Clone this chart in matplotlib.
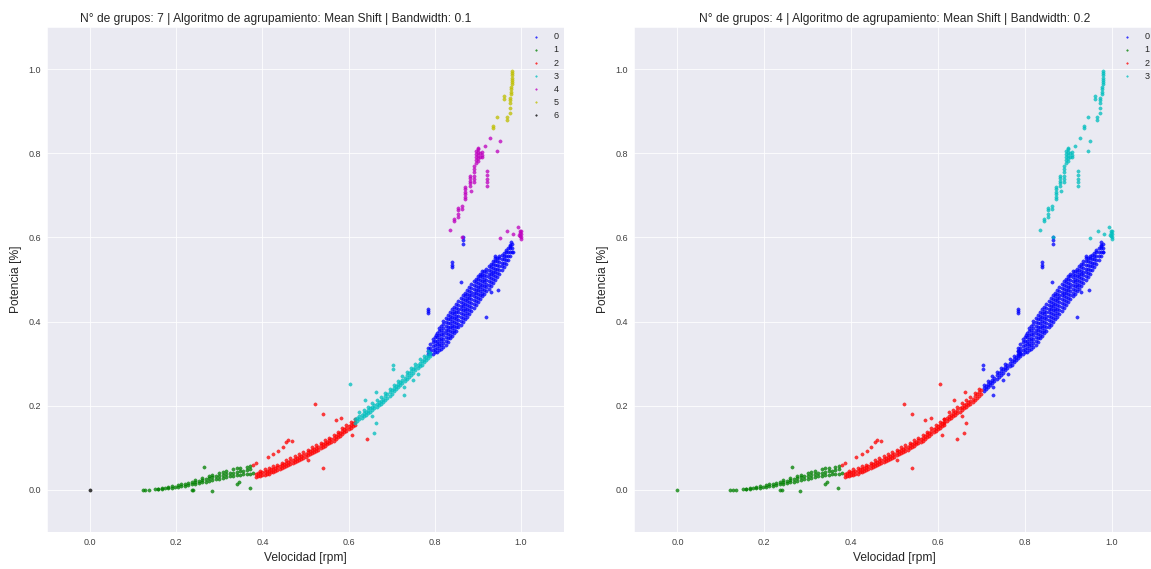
import numpy as np
import matplotlib
matplotlib.use('Agg')
import matplotlib.pyplot as plt
import seaborn as sns

sns.set_style('darkgrid')
plt.rcParams['font.family'] = ['Liberation Sans', 'DejaVu Sans']

# ---------------- data ----------------
# dense band of the main cluster: column velocity -> list of power values
blue_col_v = [0.785, 0.790, 0.795, 0.800, 0.805, 0.810, 0.815, 0.820, 0.825, 0.830,
              0.835, 0.840, 0.845, 0.850, 0.855, 0.860, 0.865, 0.870, 0.875, 0.880,
              0.885, 0.890, 0.895, 0.900, 0.905, 0.910, 0.915, 0.920, 0.925, 0.930,
              0.935, 0.940, 0.945, 0.950, 0.955, 0.960, 0.965, 0.970, 0.975, 0.980]
blue_col_p = [
    [.322, .330, .338],
    [.322, .330, .338, .346],
    [.324, .333, .342, .351, .358],
    [.327, .336, .345, .354, .363],
    [.328, .337, .346, .355, .364, .373],
    [.332, .341, .350, .359, .368, .377, .384],
    [.335, .344, .353, .362, .371, .380, .389],
    [.340, .349, .358, .367, .376, .385, .394, .401],
    [.345, .354, .363, .372, .381, .390, .399, .408],
    [.352, .361, .370, .379, .388, .397, .406, .415],
    [.360, .369, .378, .387, .396, .405, .414, .423],
    [.366, .375, .384, .393, .402, .411, .420, .429],
    [.372, .381, .390, .399, .408, .417, .426, .435],
    [.378, .387, .396, .405, .414, .423, .432, .441],
    [.386, .395, .404, .413, .422, .431, .440, .449],
    [.393, .402, .411, .420, .429, .438, .447, .456],
    [.400, .409, .418, .427, .436, .445, .454, .463],
    [.406, .415, .424, .433, .442, .451, .460, .469],
    [.412, .421, .430, .439, .448, .457, .466, .475],
    [.419, .428, .437, .446, .455, .464, .473, .482],
    [.426, .435, .444, .453, .462, .471, .480, .489],
    [.433, .442, .451, .460, .469, .478, .487, .496],
    [.440, .449, .458, .467, .476, .485, .494, .502],
    [.447, .456, .465, .474, .483, .492, .501, .509],
    [.454, .463, .472, .481, .490, .499, .508, .514],
    [.460, .469, .478, .487, .496, .505, .514, .520],
    [.466, .475, .484, .493, .502, .511, .520],
    [.472, .481, .490, .499, .508, .517, .526],
    [.478, .487, .496, .505, .514, .523, .532],
    [.485, .494, .503, .512, .521, .530, .538],
    [.492, .501, .510, .519, .528, .537, .544],
    [.499, .508, .517, .526, .535, .544, .550],
    [.507, .516, .525, .534, .543, .552],
    [.514, .523, .532, .541, .550, .557],
    [.522, .531, .540, .549, .558],
    [.530, .539, .548, .557, .564],
    [.538, .547, .556, .565, .571],
    [.547, .556, .565, .574],
    [.556, .565, .574, .582],
    [.566, .575, .584],
]
blue_out_v = [0.785, 0.785, 0.785, 0.839, 0.839, 0.839, 0.866, 0.866, 0.866, 0.862,
              0.920, 0.947, 0.940, 0.981, 0.975, 0.976, 0.804, 0.930]
blue_out_p = [0.430, 0.425, 0.420, 0.541, 0.535, 0.529, 0.600, 0.593, 0.585, 0.494,
              0.410, 0.474, 0.557, 0.565, 0.580, 0.590, 0.367, 0.470]

# cyan band (left chart cluster 3); split at v ~ 0.70 (lower part joins cluster 2 on the right chart)
cyanA_col_v = [0.615, 0.620, 0.625, 0.630, 0.635, 0.640, 0.645, 0.650, 0.655, 0.660,
               0.665, 0.670, 0.675, 0.680, 0.685, 0.690, 0.695, 0.700]
cyanA_col_p = [[.160, .168], [.163, .171], [.168, .176, .184], [.171, .179], [.175, .183, .190],
               [.178, .186], [.183, .191, .198], [.186, .194], [.190, .198, .206], [.194, .202],
               [.197, .205, .213], [.201, .209], [.204, .212, .220], [.209, .217], [.214, .222, .230],
               [.219, .227], [.224, .232, .240], [.229, .237]]
cyanA_out_v = [0.604, 0.637, 0.663, 0.664, 0.660, 0.655]
cyanA_out_p = [0.251, 0.213, 0.233, 0.158, 0.136, 0.176]
cyanB_col_v = [0.705, 0.710, 0.715, 0.720, 0.725, 0.730, 0.735, 0.740, 0.745, 0.750,
               0.755, 0.760, 0.765, 0.770, 0.775, 0.780, 0.785, 0.790]
cyanB_col_p = [[.234, .242, .250], [.239, .247], [.244, .252, .260], [.249, .257], [.254, .262, .270],
               [.259, .267], [.264, .272, .280], [.269, .277], [.274, .282, .290], [.279, .287],
               [.284, .292, .300], [.289, .297], [.294, .302, .310], [.298, .306], [.303, .311, .319],
               [.308, .316], [.313, .321, .329], [.318, .326]]
cyanB_out_v = [0.703, 0.703, 0.728, 0.728, 0.761, 0.750]
cyanB_out_p = [0.296, 0.288, 0.245, 0.225, 0.276, 0.262]

# red band (cluster 2)
red_col_v = [0.385, 0.390, 0.395, 0.400, 0.405, 0.410, 0.415, 0.420, 0.425, 0.430,
             0.435, 0.440, 0.445, 0.450, 0.455, 0.460, 0.465, 0.470, 0.475, 0.480,
             0.485, 0.490, 0.495, 0.500, 0.505, 0.510, 0.515, 0.520, 0.525, 0.530,
             0.535, 0.540, 0.545, 0.550, 0.555, 0.560, 0.565, 0.570, 0.575, 0.580,
             0.585, 0.590, 0.595, 0.600, 0.605, 0.610, 0.615]
red_col_p = [[.030, .037], [.033, .040], [.033, .040, .046], [.036, .043], [.036, .043, .049],
             [.039, .046], [.039, .046, .052], [.042, .049], [.043, .050, .056], [.046, .053],
             [.047, .054, .060], [.050, .057], [.052, .059, .065], [.055, .062], [.057, .064, .070],
             [.060, .067], [.062, .069, .075], [.064, .071], [.067, .074, .080], [.069, .076],
             [.072, .079, .085], [.074, .081], [.077, .084, .090], [.079, .086], [.082, .089, .095],
             [.085, .092], [.088, .095, .101], [.091, .098], [.093, .100, .106], [.096, .103],
             [.099, .106, .112], [.102, .109], [.105, .112, .118], [.108, .115], [.111, .118, .124],
             [.114, .121], [.117, .124, .130], [.121, .128], [.125, .132, .138], [.129, .136],
             [.133, .140, .146], [.137, .144], [.141, .148, .154], [.144, .151], [.148, .155, .161],
             [.151, .158], [.155, .162, .168]]
red_out_v = [0.378, 0.385, 0.412, 0.424, 0.436, 0.447, 0.455, 0.459, 0.468, 0.521,
             0.540, 0.571, 0.583, 0.505, 0.540, 0.643, 0.609]
red_out_p = [0.059, 0.063, 0.079, 0.085, 0.093, 0.103, 0.114, 0.118, 0.116, 0.203,
             0.180, 0.167, 0.171, 0.071, 0.053, 0.122, 0.130]

# green band (cluster 1)
green_col_v = [0.122, 0.128, 0.136, 0.150, 0.158, 0.168, 0.175, 0.182, 0.190, 0.198,
               0.205, 0.212, 0.220, 0.228, 0.236, 0.244, 0.252, 0.260, 0.268, 0.276,
               0.284, 0.292, 0.300, 0.308, 0.316, 0.324, 0.332, 0.340, 0.348, 0.356,
               0.364, 0.372, 0.378]
green_col_p = [[.000], [.000], [.000], [.001], [.001, .003], [.002, .005], [.004], [.004, .007],
               [.005, .009], [.007], [.007, .011], [.009, .013], [.010, .015], [.012, .016],
               [.013, .018], [.015, .020, .024], [.017, .022], [.018, .024, .028], [.020, .026],
               [.022, .028, .033], [.024, .030, .036], [.025, .032], [.027, .034, .040],
               [.028, .036, .043], [.030, .037, .045], [.032, .040], [.033, .041, .049],
               [.035, .043, .051], [.036, .044, .053], [.037, .046], [.038, .047, .055],
               [.039, .050, .058], [.040]]
green_out_v = [0.264, 0.236, 0.240, 0.283, 0.371, 0.340, 0.345]
green_out_p = [0.054, 0.000, 0.000, -0.003, 0.004, 0.014, 0.020]

# black point at the origin
black_v = [0.0]
black_p = [0.0]

# magenta (cluster 4, left)
mag_v = [0.836, 0.845, 0.845, 0.854, 0.854, 0.854, 0.854, 0.863, 0.863,
         0.871, 0.871, 0.871, 0.871, 0.871, 0.871,
         0.881, 0.881, 0.881, 0.881, 0.881, 0.883,
         0.891, 0.891, 0.891, 0.891, 0.891, 0.891,
         0.895, 0.895, 0.895, 0.895, 0.895,
         0.900, 0.900, 0.900, 0.900, 0.900, 0.900,
         0.904, 0.904, 0.909, 0.909, 0.909, 0.916, 0.928, 0.951, 0.945,
         0.922, 0.922, 0.922, 0.922, 0.922, 0.864,
         0.994, 0.998, 0.998, 0.998, 1.000, 1.000, 1.000, 1.000, 0.996, 0.982, 0.968, 0.951]
mag_p = [0.618, 0.644, 0.640, 0.648, 0.656, 0.664, 0.671, 0.675, 0.668,
         0.691, 0.697, 0.703, 0.709, 0.715, 0.720,
         0.723, 0.729, 0.735, 0.741, 0.746, 0.711,
         0.731, 0.739, 0.747, 0.755, 0.763, 0.770,
         0.778, 0.785, 0.792, 0.799, 0.806,
         0.782, 0.789, 0.796, 0.803, 0.810, 0.813,
         0.790, 0.800, 0.790, 0.796, 0.802, 0.818, 0.837, 0.829, 0.806,
         0.723, 0.731, 0.740, 0.749, 0.758, 0.602,
         0.624, 0.616, 0.610, 0.604, 0.616, 0.609, 0.602, 0.596, 0.606, 0.607, 0.615, 0.598]

# yellow (cluster 5, left)
yel_v = [0.980, 0.980, 0.980, 0.980, 0.980, 0.980, 0.980, 0.978, 0.978, 0.978, 0.978,
         0.974, 0.974, 0.974, 0.961, 0.961, 0.974, 0.974, 0.967, 0.967, 0.945, 0.936, 0.936]
yel_p = [0.995, 0.990, 0.985, 0.980, 0.975, 0.970, 0.965, 0.958, 0.952, 0.946, 0.940,
         0.932, 0.926, 0.920, 0.936, 0.929, 0.907, 0.895, 0.886, 0.878, 0.885, 0.865, 0.860]

# cluster labels of each data segment in the two charts
left_labels = {'black': 6, 'green': 1, 'red': 2, 'cyanA': 3, 'cyanB': 3, 'blue': 0, 'mag': 4, 'yel': 5}
right_labels = {'black': 1, 'green': 1, 'red': 2, 'cyanA': 2, 'cyanB': 0, 'blue': 0, 'mag': 3, 'yel': 3}
titles = ['N° de grupos: 7 | Algoritmo de agrupamiento: Mean Shift | Bandwidth: 0.1',
          'N° de grupos: 4 | Algoritmo de agrupamiento: Mean Shift | Bandwidth: 0.2']
cluster_colors = [(0, 0, 1), (0, 0.5, 0), (1, 0, 0), (0, 0.75, 0.75),
                  (0.75, 0, 0.75), (0.75, 0.75, 0), (0, 0, 0)]


def flatten(col_v, col_p, out_v, out_p):
    v, p = [], []
    for cv, cps in zip(col_v, col_p):
        for cp in cps:
            v.append(cv)
            p.append(cp)
    return v + list(out_v), p + list(out_p)


segments = {
    'blue': flatten(blue_col_v, blue_col_p, blue_out_v, blue_out_p),
    'cyanA': flatten(cyanA_col_v, cyanA_col_p, cyanA_out_v, cyanA_out_p),
    'cyanB': flatten(cyanB_col_v, cyanB_col_p, cyanB_out_v, cyanB_out_p),
    'red': flatten(red_col_v, red_col_p, red_out_v, red_out_p),
    'green': flatten(green_col_v, green_col_p, green_out_v, green_out_p),
    'black': (black_v, black_p),
    'mag': (mag_v, mag_p),
    'yel': (yel_v, yel_p),
}

# ---------------- figure ----------------
W, H = 1151, 569
fig = plt.figure(figsize=(W / 72, H / 72), dpi=72)
ax_rects = [[47 / W, 37 / H, 517 / W, 505 / H],
            [634 / W, 37 / H, 521 / W, 505 / H]]
title_x = [0.442, 0.5]

for rect, labels, title, tx in zip(ax_rects, [left_labels, right_labels], titles, title_x):
    ax = fig.add_axes(rect)
    n = max(labels.values()) + 1
    for k in range(n):
        vs, ps = [], []
        for seg, lab in labels.items():
            if lab == k:
                vs += list(segments[seg][0])
                ps += list(segments[seg][1])
        ax.scatter(vs, ps, s=11, color=cluster_colors[k], alpha=0.75, linewidths=0.4,
                   edgecolors=cluster_colors[k], label=str(k))
    ax.set_xlim(-0.1, 1.1)
    ax.set_ylim(-0.1, 1.1)
    ax.set_xticks([0.0, 0.2, 0.4, 0.6, 0.8, 1.0])
    ax.set_yticks([0.0, 0.2, 0.4, 0.6, 0.8, 1.0])
    ax.tick_params(labelsize=9, labelcolor='0.25', length=0, pad=6)
    ax.set_title(title, fontsize=12, color='0.15', pad=5, x=tx)
    ax.set_xlabel('Velocidad [rpm]', fontsize=12, color='0.15', labelpad=5)
    ax.set_ylabel('Potencia [%]', fontsize=12, color='0.15', labelpad=6)
    ax.legend(loc='upper right', fontsize=9, frameon=False, markerscale=0.5,
              handletextpad=0.9, labelspacing=0.45, borderaxespad=0.2)

fig.savefig('out.png', dpi=72, facecolor='white')
